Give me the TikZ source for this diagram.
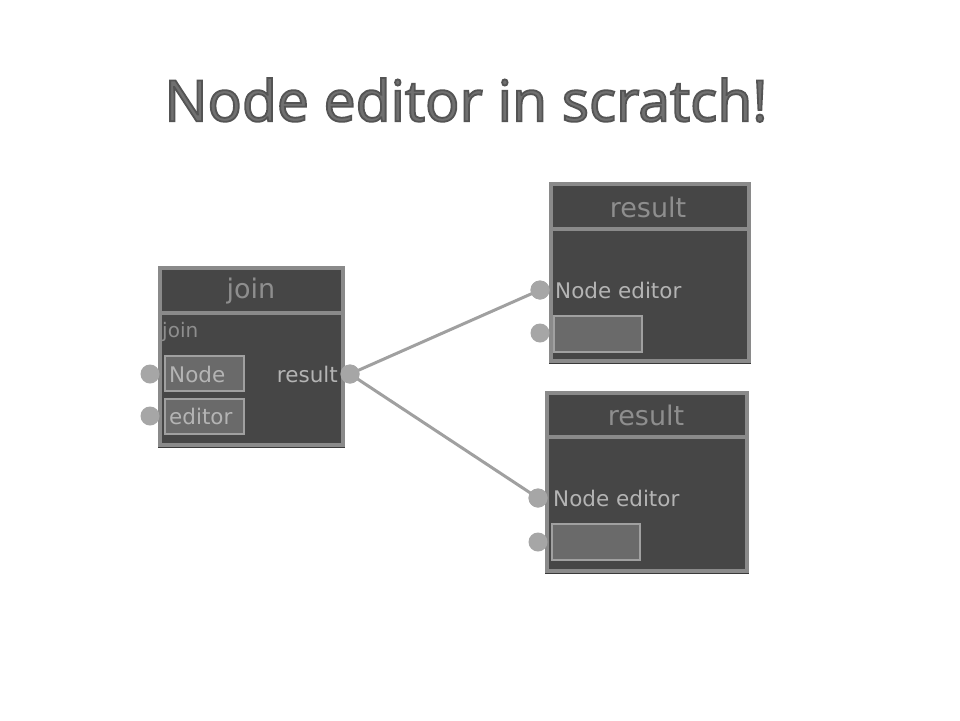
\documentclass[tikz,border=0pt]{standalone}
\usepackage{fontspec}
\setmainfont{Open Sans}
\newfontfamily\titlefont{Open Sans}
\newfontfamily\uifont{DejaVu Sans}
\usetikzlibrary{positioning}
\definecolor{bodyc}{HTML}{464646}
\definecolor{edgec}{HTML}{8A8A8A}
\definecolor{portc}{HTML}{A6A6A6}
\definecolor{boxfill}{HTML}{6A6A6A}
\definecolor{boxedge}{HTML}{A0A0A0}
\definecolor{headtxt}{HTML}{8E8E8E}
\definecolor{bodytxt}{HTML}{B4B4B4}
\definecolor{titletxt}{HTML}{707070}
\definecolor{shadowc}{HTML}{3A3A3A}
\newcommand{\outlinedtext}[1]{\special{pdf:code q 2 Tr 1.8 w 0.33 0.33 0.33 RG}#1\special{pdf:code Q}}
\tikzset{
  x=1pt, y=-1pt,
  titlestyle/.style={font=\titlefont\fontsize{57}{57}\selectfont, inner sep=0pt},
  panel/.style={draw=edgec, fill=bodyc, line width=4pt, inner sep=0pt},
  headsep/.style={draw=edgec, line width=4pt},
  shadowline/.style={draw=shadowc, line width=1.5pt},
  headtext/.style={text=headtxt, font=\uifont\fontsize{27}{27}\selectfont, inner sep=0pt},
  bodytext/.style={text=bodytxt, font=\uifont\fontsize{21.5}{21.5}\selectfont, inner sep=0pt},
  fieldbox/.style={draw=boxedge, fill=boxfill, line width=2.5pt, inner sep=0pt},
  port/.style={circle, fill=portc, minimum size=19pt, inner sep=0pt},
  wire/.style={draw=boxedge, line width=3pt},
}
\begin{document}
\begin{tikzpicture}
\useasboundingbox[fill=white] (0,0) rectangle (960,720);
% title
\node[titlestyle, text=titletxt] (title) at (466,100) {\outlinedtext{Node editor in scratch!}};

% join node
\node[panel, minimum width=183pt, minimum height=177pt] (join) at (251.5,356.5) {};
\draw[shadowline] ([yshift=-0.6pt]join.south west) -- ([yshift=-0.6pt]join.south east);
\draw[headsep] (join.north west |- 0,313) -- (join.north east |- 0,313);
\node[headtext] (jointitle) at (251,291) {join};
\node[bodytext, text=headtxt, font=\uifont\fontsize{20}{20}\selectfont, anchor=west] (joinlabel) at (162,332) {join};
\node[fieldbox, minimum width=79pt, minimum height=35pt] (fnode) at (204.5,373.5) {};
\node[bodytext, anchor=west] (fnodet) at (169,374) {Node};
\node[fieldbox, minimum width=79pt, minimum height=35pt] (fedit) at (204.5,416.5) {};
\node[bodytext, anchor=west] (feditt) at (169,416) {editor};
\node[bodytext, anchor=east] (joinout) at (338,374) {result};
\node[port] (pin1) at (150,374) {};
\node[port] (pin2) at (150,416) {};
\node[port] (pout) at (350,374) {};

% result node 1
\node[panel, minimum width=198pt, minimum height=177pt] (r1) at (650,272.5) {};
\draw[shadowline] ([yshift=-0.6pt]r1.south west) -- ([yshift=-0.6pt]r1.south east);
\draw[headsep] (r1.north west |- 0,229) -- (r1.north east |- 0,229);
\node[headtext] (r1title) at (648,207) {result};
\node[bodytext, anchor=west] (r1text) at (555,290) {Node editor};
\node[fieldbox, minimum width=88pt, minimum height=36pt] (r1box) at (598,334) {};
\node[port] (r1in) at (540,290) {};
\node[port] (r1in2) at (540,333) {};

% result node 2
\node[panel, minimum width=200pt, minimum height=178pt] (r2) at (647,482) {};
\draw[shadowline] ([yshift=-0.6pt]r2.south west) -- ([yshift=-0.6pt]r2.south east);
\draw[headsep] (r2.north west |- 0,437) -- (r2.north east |- 0,437);
\node[headtext] (r2title) at (646,415) {result};
\node[bodytext, anchor=west] (r2text) at (553,498) {Node editor};
\node[fieldbox, minimum width=88pt, minimum height=36pt] (r2box) at (596,542) {};
\node[port] (r2in) at (538,498) {};
\node[port] (r2in2) at (538,542) {};

% wires
\draw[wire] (pout.center) -- (r1in.center);
\draw[wire] (pout.center) -- (r2in.center);
\node[port] at (pout) {};
\node[port] at (r1in) {};
\node[port] at (r2in) {};
\end{tikzpicture}
\end{document}
